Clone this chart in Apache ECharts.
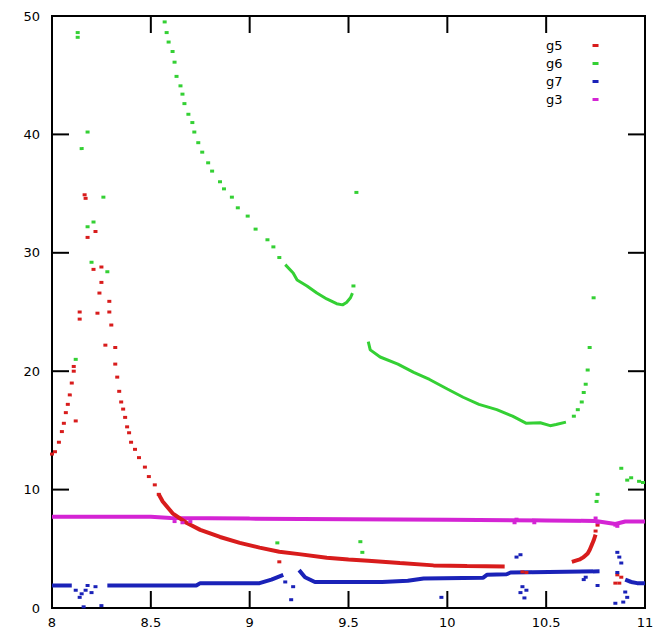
<!DOCTYPE html>
<html>
<head>
<meta charset="utf-8">
<script src="https://cdn.jsdelivr.net/npm/echarts@6/dist/echarts.min.js"></script>
<style>
html,body{margin:0;padding:0;background:#fff}
#c{width:672px;height:642px}
</style>
</head>
<body>
<div id="c"></div>
<script>
// ---- axis ticks ----
const xTicks = [8, 8.5, 9, 9.5, 10, 10.5, 11];
const yTicks = [0, 10, 20, 30, 40, 50];
const seriesNames = ['g5', 'g6', 'g7', 'g3'];

// ---- g5 (red) ----
const g5Points = [
  [8.00,13.0],[8.015,13.2],[8.035,14.0],[8.05,14.9],[8.06,15.6],[8.07,16.5],[8.08,17.2],[8.09,18.0],
  [8.10,19.0],[8.11,20.0],[8.11,20.4],[8.12,15.8],[8.14,25.0],[8.14,24.4],[8.165,34.9],[8.17,34.6],
  [8.18,31.3],[8.22,31.8],[8.21,28.6],[8.25,28.8],[8.25,27.5],[8.24,26.6],[8.29,25.9],[8.23,24.9],
  [8.29,25.0],[8.30,23.9],[8.27,22.2],[8.32,22.0],[8.32,20.6],[8.33,19.5],[8.34,18.3],[8.35,17.4],
  [8.36,16.8],[8.37,16.1],[8.38,15.3],[8.39,14.8],[8.40,14.0],[8.42,13.4],[8.44,12.7],[8.47,11.9],
  [8.49,11.1],[8.52,10.4],[8.54,9.6],
  [9.15,3.9],[10.38,3.05],[10.40,3.0],[10.75,6.5],[10.76,7.0],
  [10.86,2.8],[10.88,2.6],[10.87,2.1],[10.85,2.1]
];
const g5Band = [
  [8.54,9.6],[8.56,9.0],[8.61,8.0],[8.68,7.2],[8.75,6.6],[8.85,6.0],[8.95,5.5],[9.05,5.1],
  [9.15,4.75],[9.25,4.55],[9.39,4.25],[9.5,4.1],[9.6,4.0],[9.76,3.8],[9.93,3.6],[10.1,3.55],[10.29,3.5],
  null,
  [10.63,3.9],[10.67,4.1],[10.69,4.3],[10.71,4.6],[10.72,4.9],[10.74,5.7],[10.75,6.2]
];

// ---- g6 (green) ----
const g6Points = [
  [8.13,48.6],[8.13,48.2],[8.18,40.2],[8.15,38.8],[8.26,34.7],[8.18,32.2],[8.21,32.6],[8.20,29.2],
  [8.28,28.4],[8.12,21.0],
  [8.57,49.5],[8.58,48.6],[8.59,47.8],[8.61,47.0],[8.62,46.1],[8.63,44.9],[8.65,44.1],[8.66,43.4],
  [8.67,42.6],[8.69,41.7],[8.71,41.0],[8.72,40.2],[8.74,39.3],[8.76,38.5],[8.79,37.6],[8.81,36.9],
  [8.85,36.0],[8.87,35.4],[8.91,34.7],[8.94,33.8],[8.99,33.1],[9.03,32.0],[9.09,31.1],[9.12,30.5],
  [9.15,29.6],
  [9.525,27.2],[9.54,35.1],
  [10.64,16.2],[10.66,16.75],[10.68,17.4],[10.69,18.2],[10.70,18.9],[10.71,20.1],[10.72,22.0],[10.74,26.2],
  [10.76,9.6],[10.755,9.0],[10.88,11.8],[10.91,10.8],[10.93,11.0],[10.97,10.7],[10.99,10.6],
  [9.14,5.5],[9.56,5.6],[9.57,4.7]
];
const g6Band = [
  [9.18,29.0],[9.22,28.3],[9.24,27.7],[9.29,27.2],[9.34,26.6],[9.39,26.1],[9.44,25.7],[9.47,25.6],
  [9.49,25.8],[9.51,26.2],[9.52,26.6],
  null,
  [9.60,22.5],[9.61,21.8],[9.66,21.2],[9.75,20.6],[9.83,19.9],[9.91,19.3],[10.0,18.5],[10.08,17.8],
  [10.16,17.2],[10.25,16.75],[10.33,16.2],[10.40,15.6],[10.47,15.65],[10.52,15.4],[10.55,15.5],[10.60,15.7]
];

// ---- g7 (blue) ----
const g7Points = [
  [8.12,1.5],[8.14,0.9],[8.15,1.2],[8.17,1.5],[8.18,1.9],[8.20,1.3],[8.22,1.8],[8.16,0.1],[8.25,0.2],
  [9.18,2.2],[9.22,1.8],[9.21,0.7],
  [9.97,0.9],[10.35,4.3],[10.37,4.5],[10.38,1.8],[10.40,1.5],[10.37,1.3],[10.39,0.85],
  [10.69,2.4],[10.70,2.6],[10.76,1.9],[10.86,4.7],[10.87,4.3],[10.88,3.8],[10.86,3.0],
  [10.90,1.35],[10.91,0.9],[10.89,0.5],[10.85,0.4]
];
const g7Band = [
  [8.0,1.9],[8.1,1.9],
  null,
  [8.28,1.9],[8.73,1.9],[8.75,2.1],[9.05,2.1],[9.11,2.4],[9.17,2.8],
  null,
  [9.25,3.2],[9.28,2.6],[9.33,2.2],[9.67,2.2],[9.80,2.3],[9.88,2.5],[10.18,2.55],[10.20,2.8],
  [10.30,2.85],[10.32,3.0],[10.77,3.1],
  null,
  [10.90,2.4],[10.93,2.2],[10.96,2.1],[11.0,2.1]
];

// ---- g3 (magenta) ----
const g3Points = [
  [8.62,7.3],[8.66,7.2],[8.70,7.3],[10.34,7.2],[10.35,7.5],[10.44,7.2],[10.75,7.6],[10.76,7.2],
  [10.85,7.0],[10.86,6.9]
];
const g3Band = [
  [8.0,7.7],[8.5,7.7],[8.6,7.6],[9.0,7.55],[9.5,7.5],[10.0,7.45],[10.5,7.4],[10.75,7.35],
  [10.85,7.1],[10.9,7.3],[11.0,7.3]
];

const colors = { g5: '#d81c1c', g6: '#34d034', g7: '#1a22b8', g3: '#d424d4' };
const font = 'DejaVu Sans';
const X_MIN = xTicks[0], X_MAX = xTicks[xTicks.length - 1];
const Y_MIN = yTicks[0], Y_MAX = yTicks[yTicks.length - 1];
const TICK_LEN = 17;

function dots(name, data) {
  return { name, type: 'line', data, showSymbol: true, showAllSymbol: true, symbol: 'rect',
    symbolSize: [4, 3], connectNulls: false,
    lineStyle: { width: 0, opacity: 0 }, itemStyle: { color: colors[name] } };
}
function band(name, data, w) {
  return { name, type: 'line', data, showSymbol: false, symbol: 'none', connectNulls: false,
    lineStyle: { color: colors[name], width: w }, itemStyle: { color: colors[name] } };
}
function seg(x1, y1, x2, y2) {
  return { type: 'line', shape: { x1, y1, x2, y2 }, style: { stroke: '#000', lineWidth: 2 } };
}
// mirrored inward tick marks (gnuplot style), placed through the axes' own scales
const xTickSeries = {
  type: 'custom', z: 20, silent: true, clip: false,
  data: xTicks.slice(1, -1).map(v => [v, Y_MIN]),
  renderItem: (params, api) => {
    const b = api.coord([api.value(0), Y_MIN]);
    const t = api.coord([api.value(0), Y_MAX]);
    return { type: 'group', children: [
      seg(b[0], b[1], b[0], b[1] - TICK_LEN), seg(t[0], t[1], t[0], t[1] + TICK_LEN)
    ] };
  }
};
const yTickSeries = {
  type: 'custom', z: 20, silent: true, clip: false,
  data: yTicks.slice(1, -1).map(v => [X_MIN, v]),
  renderItem: (params, api) => {
    const l = api.coord([X_MIN, api.value(1)]);
    const r = api.coord([X_MAX, api.value(1)]);
    return { type: 'group', children: [
      seg(l[0], l[1], l[0] + TICK_LEN, l[1]), seg(r[0], r[1], r[0] - TICK_LEN, r[1])
    ] };
  }
};

const option = {
  grid: { left: 52, top: 16, right: 27, bottom: 34, show: true, borderColor: '#000', borderWidth: 2 },
  legend: {
    data: seriesNames, left: 541, top: 34, orient: 'vertical', align: 'right',
    itemWidth: 6, itemHeight: 3, itemGap: 5, icon: 'rect',
    textStyle: { fontFamily: font, fontSize: 13, color: '#000', padding: [0, 25, 0, 0] }
  },
  xAxis: { type: 'value', min: X_MIN, max: X_MAX, interval: 0.5, position: 'bottom',
    axisLine: { show: true, onZero: false, lineStyle: { color: '#000', width: 2 } },
    axisTick: { show: false }, splitLine: { show: false },
    axisLabel: { show: true, fontFamily: font, fontSize: 13, color: '#000', margin: 8,
      formatter: v => xTicks.includes(v) ? String(v) : '' } },
  yAxis: { type: 'value', min: Y_MIN, max: Y_MAX, interval: 10, position: 'left',
    axisLine: { show: true, onZero: false, lineStyle: { color: '#000', width: 2 } },
    axisTick: { show: false }, splitLine: { show: false },
    axisLabel: { show: true, fontFamily: font, fontSize: 13, color: '#000', margin: 12,
      formatter: v => yTicks.includes(v) ? String(v) : '' } },
  series: [
    dots('g5', g5Points), band('g5', g5Band, 4),
    dots('g6', g6Points), band('g6', g6Band, 3),
    dots('g7', g7Points), band('g7', g7Band, 4),
    band('g3', g3Band, 4), dots('g3', g3Points),
    xTickSeries, yTickSeries
  ]
};
option.series[6].z = 1;
echarts.init(document.getElementById('c'), null, { renderer: 'svg' }).setOption(option);
</script>
</body>
</html>
